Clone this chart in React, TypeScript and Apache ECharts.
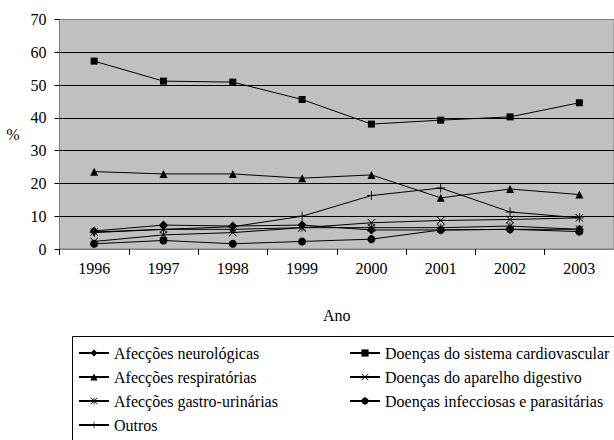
import React, { useEffect, useRef } from "react";
import * as echarts from "echarts";

const years = ["1996", "1997", "1998", "1999", "2000", "2001", "2002", "2003"];
const neuro = [5.5, 7.3, 7.0, 7.3, 5.8, 5.8, 6.0, 6.0];
const cardio = [57.3, 51.2, 50.9, 45.6, 38.1, 39.3, 40.3, 44.6];
const resp = [23.6, 22.9, 22.9, 21.6, 22.6, 15.6, 18.3, 16.6];
const digest = [2.3, 4.3, 5.0, 6.5, 8.0, 8.7, 9.0, 9.5];
const gastro = [5.2, 6.0, 6.0, 6.5, 6.5, 6.5, 7.0, 6.0];
const infect = [1.6, 2.6, 1.6, 2.3, 3.0, 5.8, 6.0, 5.3];
const outros = [5.0, 6.0, 6.8, 10.0, 16.3, 18.6, 11.3, 9.5];

const names = {
  neuro: "Afecções neurológicas",
  cardio: "Doenças do sistema cardiovascular",
  resp: "Afecções respiratórias",
  digest: "Doenças do aparelho digestivo",
  gastro: "Afecções gastro-urinárias",
  infect: "Doenças infecciosas e parasitárias",
  outros: "Outros",
};

const PLUS = "path://M4.5,0H5.5V4.5H10V5.5H5.5V10H4.5V5.5H0V4.5H4.5Z";
const CROSS = "path://M0,0.7L0.7,0L10,9.3L9.3,10Z M9.3,0L10,0.7L0.7,10L0,9.3Z";
const STAR = "path://M0,0.7L0.7,0L10,9.3L9.3,10Z M9.3,0L10,0.7L0.7,10L0,9.3Z M4.5,0H5.5V10H4.5Z";

const FONT = "Liberation Serif";
const INK = "#000";

export default function App() {
  const ref = useRef<HTMLDivElement>(null);
  useEffect(() => {
    const chart = echarts.init(ref.current!, undefined, { renderer: "svg" });
    const mk = (name: string, data: number[], symbol: string, size: number) => ({
      name,
      type: "line",
      data,
      symbol,
      symbolSize: size,
      showSymbol: true,
      lineStyle: { color: "#000", width: 1 },
      itemStyle: { color: "#000" },
    });
    const legendBase = {
      orient: "vertical",
      top: 341,
      itemWidth: 30,
      itemHeight: 9,
      itemGap: 0,
      textStyle: { fontFamily: FONT, fontSize: 16, color: INK, lineHeight: 24 },
      selectedMode: false,
      padding: 0,
    };
    chart.setOption({
      animation: false,
      grid: {
        left: 59.5,
        right: -14,
        top: 19.5,
        bottom: 191,
        show: true,
        backgroundColor: "#c0c0c0",
        borderColor: "#808080",
        borderWidth: 1,
      },
      xAxis: {
        type: "category",
        data: years,
        boundaryGap: true,
        axisLine: { lineStyle: { color: "#808080", width: 1 } },
        axisTick: { show: true, length: 6, lineStyle: { color: "#000" } },
        axisLabel: { fontFamily: FONT, fontSize: 16, color: INK, margin: 11 },
        name: "Ano",
        nameLocation: "middle",
        nameGap: 58,
        nameTextStyle: { fontFamily: FONT, fontSize: 16, color: INK },
        splitLine: { show: false },
      },
      yAxis: {
        type: "value",
        min: 0,
        max: 70,
        interval: 10,
        axisLine: { show: true, lineStyle: { color: "#808080", width: 1 } },
        axisTick: { show: true, length: 5, lineStyle: { color: "#000" } },
        axisLabel: { fontFamily: FONT, fontSize: 16, color: INK, margin: 13 },
        splitLine: {
          show: true,
          lineStyle: {
            color: ["#808080", "#000", "#000", "#000", "#000", "#000", "#000", "#808080"],
            width: 1,
          },
        },
        name: "%",
        nameLocation: "middle",
        nameGap: 40,
        nameRotate: 0,
        nameTextStyle: { fontFamily: FONT, fontSize: 16, color: INK },
      },
      legend: [
        { ...legendBase, left: 78, data: [names.neuro, names.resp, names.gastro, names.outros] },
        { ...legendBase, left: 349, data: [names.cardio, names.digest, names.infect] },
      ],
      graphic: [
        {
          type: "rect",
          shape: { x: 72.5, y: 336.5, width: 600, height: 120 },
          style: { fill: "none", stroke: "#000", lineWidth: 1 },
          silent: true,
        },
      ],
      series: [
        mk(names.neuro, neuro, "diamond", 9),
        mk(names.cardio, cardio, "rect", 7),
        mk(names.resp, resp, "triangle", 8),
        mk(names.digest, digest, CROSS, 8),
        mk(names.gastro, gastro, STAR, 8),
        mk(names.infect, infect, "circle", 8),
        mk(names.outros, outros, PLUS, 9),
      ],
    });
    return () => chart.dispose();
  }, []);
  return <div ref={ref} style={{ position: "absolute", left: 0, top: 0, width: 614, height: 440 }} />;
}
